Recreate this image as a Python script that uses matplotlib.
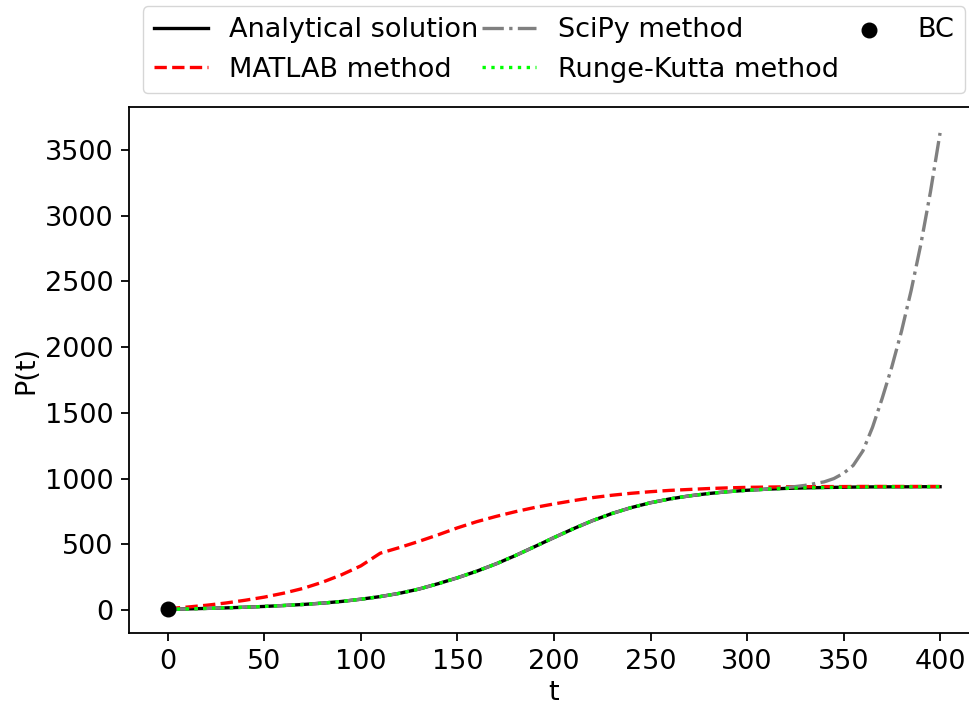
import numpy as np
import matplotlib.pyplot as plt

# valori
t = [0, 10, 20, 30, 40, 50, 60, 70, 80, 90, 100, 110, 120, 130, 140, 150, 160, 170, 180, 190,
     200, 210, 220, 230, 240, 250, 260, 270, 280, 290, 300, 310, 320, 330, 340, 350, 360, 370,
     380, 390, 400]
p_analytical = [5, 8, 12, 16, 21, 27, 34, 42, 52, 65, 82, 102, 127, 159, 200, 245, 295, 351, 414, 482,
                551, 618, 680, 734, 779, 816, 845, 868, 886, 900, 911, 919, 925, 929, 932, 934, 936, 937,
                937, 938, 938]
p_matlab = [10, 22, 36, 53, 74, 98, 128, 164, 211, 268, 336, 432, 475, 522, 572, 625, 672, 712, 748, 780,
            807, 832, 855, 873, 888, 900, 910, 917, 924, 929, 933, 935, 937, 938, 939, 939, 940, 940,
            940, 940, 940]

# SciPy: uguale all'analitica fino a t=310, poi diverge
t_scipy_tail = [320, 330, 340, 345, 350, 355, 360, 365, 370, 375, 380, 385, 390, 395, 400]
p_scipy_tail = [930, 948, 975, 1000, 1040, 1100, 1210, 1390, 1610, 1850, 2120, 2430, 2780, 3180, 3630]

t_scipy = t[:32] + t_scipy_tail
p_scipy = p_analytical[:32] + p_scipy_tail

p_rk = list(p_analytical)

t0 = 0
p0 = 5

plt.rcParams['font.size'] = 19.5
plt.rcParams['axes.linewidth'] = 1.3
plt.rcParams['xtick.major.size'] = 6
plt.rcParams['ytick.major.size'] = 6
plt.rcParams['xtick.major.width'] = 1.3
plt.rcParams['ytick.major.width'] = 1.3
plt.rcParams['xtick.major.pad'] = 5.5
plt.rcParams['ytick.major.pad'] = 5.5

fig = plt.figure(figsize=(9.69, 7.06), dpi=100)
ax = fig.add_axes([0.1334, 0.1038, 0.8766, 0.7446])

ax.plot(t, p_analytical, color='black', lw=2.4, label='Analytical solution')
ax.plot(t, p_matlab, color='red', ls='--', lw=2.4, label='MATLAB method')
ax.plot(t_scipy, p_scipy, color='gray', ls='-.', lw=2.4, label='SciPy method')
ax.plot(t, p_rk, color='lime', ls=':', lw=2.4, label='Runge-Kutta method')
ax.scatter([t0], [p0], color='black', s=110, zorder=5, label='BC')

ax.set_xlim(-20, 420)
ax.set_ylim(-173, 3827)
ax.set_xlabel('t')
ax.set_ylabel('P(t)')

ax.legend(loc='lower left', bbox_to_anchor=(0, 1.0, 1, 0.2), mode='expand',
          ncol=3, fontsize=19.5)

plt.savefig('out.png', dpi=100)
